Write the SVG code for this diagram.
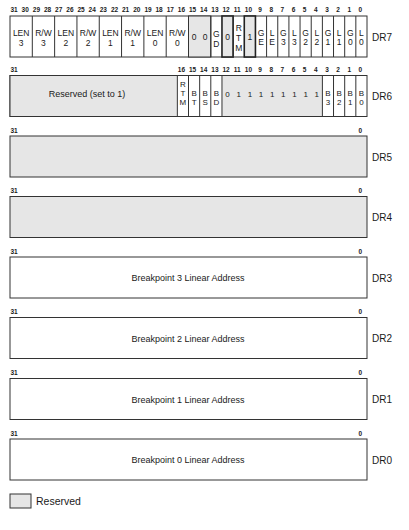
<svg xmlns="http://www.w3.org/2000/svg" width="409" height="530" viewBox="0 0 409 530">
<style>
.w{fill:#ffffff;stroke:#333333;stroke-width:1}
.g{fill:#e6e6e6;stroke:#333333;stroke-width:1}
.gb{fill:#e6e6e6;stroke:#222222;stroke-width:1.6}
.ln{stroke:#333333;stroke-width:1;fill:none}
text{font-family:"Liberation Sans",Arial,sans-serif;fill:#1a1a1a}
.bn{font-size:6.5px;font-weight:bold;text-anchor:middle}
.bs{font-size:6.5px;font-weight:bold}
.f{font-size:8.5px;text-anchor:middle}
.fs{font-size:8px;text-anchor:middle}
.dr{font-size:10px}
.c{font-size:9px;text-anchor:middle}
</style>
<rect width="409" height="530" fill="#ffffff"/>

<g id="DR7">
<g class="bn">
<text x="14.1" y="12.3">31</text><text x="25.2" y="12.3">30</text><text x="36.4" y="12.3">29</text><text x="47.6" y="12.3">28</text>
<text x="58.7" y="12.3">27</text><text x="69.9" y="12.3">26</text><text x="81" y="12.3">25</text><text x="92.2" y="12.3">24</text>
<text x="103.3" y="12.3">23</text><text x="114.5" y="12.3">22</text><text x="125.6" y="12.3">21</text><text x="136.8" y="12.3">20</text>
<text x="148" y="12.3">19</text><text x="159.1" y="12.3">18</text><text x="170.3" y="12.3">17</text><text x="181.4" y="12.3">16</text>
<text x="192.6" y="12.3">15</text><text x="203.7" y="12.3">14</text><text x="214.9" y="12.3">13</text><text x="226" y="12.3">12</text>
<text x="237.2" y="12.3">11</text><text x="248.4" y="12.3">10</text><text x="260" y="12.3">9</text><text x="271.2" y="12.3">8</text>
<text x="282.3" y="12.3">7</text><text x="293.5" y="12.3">6</text><text x="304.6" y="12.3">5</text><text x="315.8" y="12.3">4</text>
<text x="327" y="12.3">3</text><text x="338.1" y="12.3">2</text><text x="349.3" y="12.3">1</text><text x="360.4" y="12.3">0</text>
</g>
<rect class="w" x="10" y="16" width="357" height="41"/>
<rect class="g" x="188.5" y="16" width="22.31" height="41"/>
<rect class="gb" x="221.97" y="16" width="11.16" height="41"/>
<rect class="gb" x="244.28" y="16" width="11.16" height="41"/>
<path class="ln" d="M32.31 16V57M54.63 16V57M76.94 16V57M99.25 16V57M121.56 16V57M143.88 16V57M166.19 16V57M188.5 16V57M210.81 16V57M233.13 16V57M266.59 16V57M277.75 16V57M288.91 16V57M300.06 16V57M311.22 16V57M322.38 16V57M333.53 16V57M344.69 16V57M355.84 16V57"/>
<g class="f">
<text x="21.16" y="36">LEN</text><text x="21.16" y="45.8">3</text>
<text x="43.47" y="36">R/W</text><text x="43.47" y="45.8">3</text>
<text x="65.78" y="36">LEN</text><text x="65.78" y="45.8">2</text>
<text x="88.09" y="36">R/W</text><text x="88.09" y="45.8">2</text>
<text x="110.41" y="36">LEN</text><text x="110.41" y="45.8">1</text>
<text x="132.72" y="36">R/W</text><text x="132.72" y="45.8">1</text>
<text x="155.03" y="36">LEN</text><text x="155.03" y="45.8">0</text>
<text x="177.34" y="36">R/W</text><text x="177.34" y="45.8">0</text>
<text x="194.1" y="40">0</text><text x="205.2" y="40">0</text>
<text x="216.39" y="37">G</text><text x="216.39" y="46.8">D</text>
<text x="227.55" y="40">0</text>
<text x="238.7" y="30.5">R</text><text x="238.7" y="40.5">T</text><text x="238.7" y="50.5">M</text>
<text x="249.86" y="40">1</text>
<text x="261.02" y="35.5">G</text><text x="261.02" y="45.3">E</text>
<text x="272.17" y="35.5">L</text><text x="272.17" y="45.3">E</text>
<text x="283.33" y="35.5">G</text><text x="283.33" y="45.3">3</text>
<text x="294.48" y="35.5">L</text><text x="294.48" y="45.3">3</text>
<text x="305.64" y="35.5">G</text><text x="305.64" y="45.3">2</text>
<text x="316.8" y="35.5">L</text><text x="316.8" y="45.3">2</text>
<text x="327.95" y="35.5">G</text><text x="327.95" y="45.3">1</text>
<text x="339.11" y="35.5">L</text><text x="339.11" y="45.3">1</text>
<text x="350.27" y="35.5">G</text><text x="350.27" y="45.3">0</text>
<text x="361.42" y="35.5">L</text><text x="361.42" y="45.3">0</text>
</g>
<text class="dr" x="372" y="40.5">DR7</text>
</g>

<g id="DR6">
<text class="bs" x="10.5" y="72">31</text>
<g class="bn">
<text x="181.4" y="72">16</text><text x="192.6" y="72">15</text><text x="203.7" y="72">14</text><text x="214.9" y="72">13</text>
<text x="226" y="72">12</text><text x="237.2" y="72">11</text><text x="248.4" y="72">10</text><text x="260" y="72">9</text>
<text x="271.2" y="72">8</text><text x="282.3" y="72">7</text><text x="293.5" y="72">6</text><text x="304.6" y="72">5</text>
<text x="315.8" y="72">4</text><text x="327" y="72">3</text><text x="338.1" y="72">2</text><text x="349.3" y="72">1</text>
<text x="360.4" y="72">0</text>
</g>
<rect class="w" x="10" y="75.5" width="357" height="41"/>
<rect class="g" x="10" y="75.5" width="167.34" height="41"/>
<rect class="g" x="221.97" y="75.5" width="100.41" height="41"/>
<path class="ln" d="M188.5 75.5V116.5M199.66 75.5V116.5M210.81 75.5V116.5M333.53 75.5V116.5M344.69 75.5V116.5M355.84 75.5V116.5"/>
<text class="c" x="87" y="97">Reserved (set to 1)</text>
<g class="fs">
<text x="182.92" y="87">R</text><text x="182.92" y="96.2">T</text><text x="182.92" y="105.4">M</text>
<text x="194.08" y="96">B</text><text x="194.08" y="105.2">T</text>
<text x="205.23" y="96">B</text><text x="205.23" y="105.2">S</text>
<text x="216.39" y="96">B</text><text x="216.39" y="105.2">D</text>
<text x="227.55" y="96.5">0</text><text x="238.7" y="96.5">1</text><text x="249.86" y="96.5">1</text>
<text x="261.02" y="96.5">1</text><text x="272.17" y="96.5">1</text><text x="283.33" y="96.5">1</text>
<text x="294.48" y="96.5">1</text><text x="305.64" y="96.5">1</text><text x="316.8" y="96.5">1</text>
<text x="327.95" y="96">B</text><text x="327.95" y="105.2">3</text>
<text x="339.11" y="96">B</text><text x="339.11" y="105.2">2</text>
<text x="350.27" y="96">B</text><text x="350.27" y="105.2">1</text>
<text x="361.42" y="96">B</text><text x="361.42" y="105.2">0</text>
</g>
<text class="dr" x="372" y="100">DR6</text>
</g>

<g id="DR5">
<text class="bs" x="10.5" y="132.5">31</text><text class="bn" x="360.4" y="132.5">0</text>
<rect class="g" x="10" y="136" width="357" height="41"/>
<text class="dr" x="372" y="160.5">DR5</text>
</g>

<g id="DR4">
<text class="bs" x="10.5" y="193">31</text><text class="bn" x="360.4" y="193">0</text>
<rect class="g" x="10" y="196.5" width="357" height="41"/>
<text class="dr" x="372" y="221">DR4</text>
</g>

<g id="DR3">
<text class="bs" x="10.5" y="253.5">31</text><text class="bn" x="360.4" y="253.5">0</text>
<rect class="w" x="10" y="257" width="357" height="41"/>
<text class="c" x="188" y="281">Breakpoint 3 Linear Address</text>
<text class="dr" x="372" y="281.5">DR3</text>
</g>

<g id="DR2">
<text class="bs" x="10.5" y="314">31</text><text class="bn" x="360.4" y="314">0</text>
<rect class="w" x="10" y="317.5" width="357" height="41"/>
<text class="c" x="188" y="341.5">Breakpoint 2 Linear Address</text>
<text class="dr" x="372" y="342">DR2</text>
</g>

<g id="DR1">
<text class="bs" x="10.5" y="375">31</text><text class="bn" x="360.4" y="375">0</text>
<rect class="w" x="10" y="378.5" width="357" height="41"/>
<text class="c" x="188" y="402.5">Breakpoint 1 Linear Address</text>
<text class="dr" x="372" y="403">DR1</text>
</g>

<g id="DR0">
<text class="bs" x="10.5" y="435.5">31</text><text class="bn" x="360.4" y="435.5">0</text>
<rect class="w" x="10" y="439" width="357" height="41"/>
<text class="c" x="188" y="463">Breakpoint 0 Linear Address</text>
<text class="dr" x="372" y="463.5">DR0</text>
</g>

<g id="legend">
<rect class="g" x="10" y="494" width="21" height="14"/>
<text x="36" y="505" style="font-size:10.5px">Reserved</text>
</g>
<g id="connectors"/>
</svg>
